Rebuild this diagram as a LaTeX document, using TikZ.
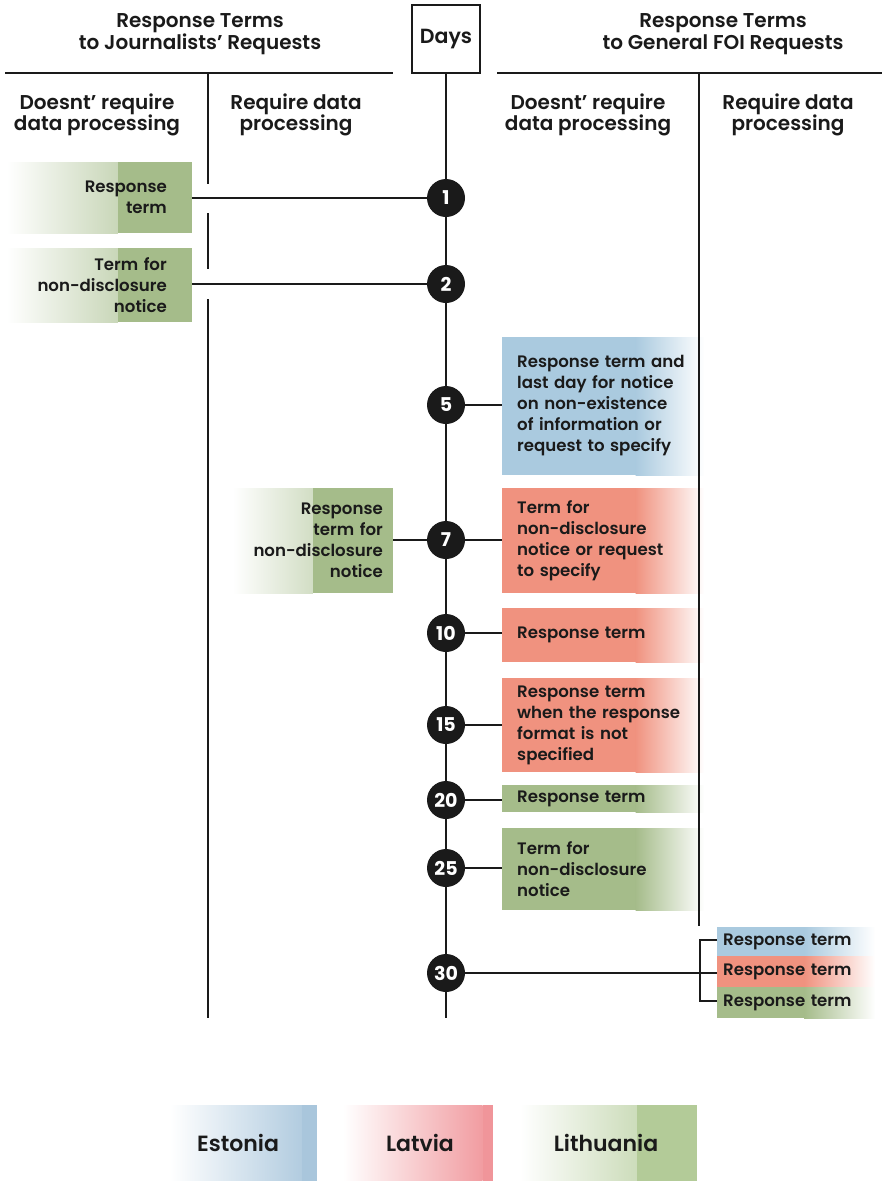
\documentclass[tikz,border=0pt]{standalone}
\usepackage{fontspec}
\setmainfont{Poppins}
\newfontfamily\medfont{Poppins}[UprightFont=* SemiBold]
\usetikzlibrary{calc}
\definecolor{ink}{HTML}{1A1A1A}
\definecolor{lgreen}{HTML}{A5BC8A}
\definecolor{lred}{HTML}{F0927F}
\definecolor{lblue}{HTML}{AACADF}
\definecolor{legblue}{HTML}{A9C6DC}
\definecolor{legred}{HTML}{F0959A}
\definecolor{leggreen}{HTML}{B3CB98}
\tikzset{
  rule/.style={line width=2pt, draw=ink},
  head/.style={align=center, text=ink, font=\medfont\fontsize{20}{21.5}\selectfont},
  day/.style={circle, fill=ink, minimum size=38pt, inner sep=0pt, text=white,
    font=\bfseries\fontsize{19}{19}\selectfont},
  boxfont/.style={text=ink, font=\medfont\fontsize{16.6}{21}\selectfont},
  rbox/.style 2 args={rectangle, anchor=west, inner xsep=15pt, inner ysep=0pt,
    text width=172pt, align=left, boxfont,
    path picture={
      \fill[#1] (path picture bounding box.south west) rectangle
        ($(path picture bounding box.north west)!#2!(path picture bounding box.north east)$);
      \shade[left color=#1, right color=white]
        ($(path picture bounding box.south west)!#2!(path picture bounding box.south east)$)
        rectangle (path picture bounding box.north east);
    }},
  lbox/.style 2 args={rectangle, anchor=east, inner ysep=0pt,
    align=right, boxfont,
    path picture={
      \shade[left color=white, right color=#1] (path picture bounding box.south west) rectangle
        ($(path picture bounding box.north west)!#2!(path picture bounding box.north east)$);
      \fill[#1]
        ($(path picture bounding box.south west)!#2!(path picture bounding box.south east)$)
        rectangle (path picture bounding box.north east);
    }},
  legbox/.style 2 args={rectangle, minimum height=76pt,
    path picture={
      \shade[left color=white, right color=#1] (path picture bounding box.south west) rectangle
        ($(path picture bounding box.north west)!#2!(path picture bounding box.north east)$);
      \fill[#1]
        ($(path picture bounding box.south west)!#2!(path picture bounding box.south east)$)
        rectangle (path picture bounding box.north east);
    }},
  legtext/.style={text=ink, font=\medfont\fontsize{22}{24}\selectfont},
}
\begin{document}
\begin{tikzpicture}[x=1pt, y=-1pt]
\useasboundingbox (0,0) rectangle (882,1181);
\fill[white] (0,0) rectangle (882,1181);

% headers
\node[head] (hj) at (200,34) {Response Terms\\to Journalists’ Requests};
\node[head] (hg) at (723,34) {Response Terms\\to General FOI Requests};
\node[draw=ink, line width=2pt, minimum size=68pt, inner sep=0pt, text=ink,
      font=\medfont\fontsize{20.5}{21}\selectfont] (days) at (446,39) {Days};
\node[head] (s1) at (97,115) {Doesnt’ require\\data processing};
\node[head] (s2) at (296,115) {Require data\\processing};
\node[head] (s3) at (588,115) {Doesnt’ require\\data processing};
\node[head] (s4) at (788,115) {Require data\\processing};

% boxes, left
\node[lbox={lgreen}{0.6}, inner xsep=25pt, text width=135pt, minimum height=71pt] (b1) at (192,197.5) {Response\\term};
\node[lbox={lgreen}{0.6}, inner xsep=25pt, text width=135pt, minimum height=74pt] (b2) at (192,285) {Term for\\non-disclosure\\notice};
\node[lbox={lgreen}{0.5}, inner xsep=10pt, text width=140pt, minimum height=105pt] (b7l) at (393,540.5) {Response\\term for\\non-disclosure\\notice};

% boxes, right
\node[rbox={lblue}{0.66}, minimum height=138pt] (b5) at (502,406) {Response term and\\last day for notice\\on non-existence\\of information or\\request to specify};
\node[rbox={lred}{0.66}, minimum height=105pt] (b7r) at (502,540.5) {Term for\\non-disclosure\\notice or request\\to specify};
\node[rbox={lred}{0.66}, minimum height=54pt] (b10) at (502,635) {Response term};
\node[rbox={lred}{0.66}, minimum height=94pt] (b15) at (502,725) {Response term\\when the response\\format is not\\specified};
\node[rbox={lgreen}{0.66}, minimum height=27pt] (b20) at (502,798.5) {Response term};
\node[rbox={lgreen}{0.66}, minimum height=82pt] (b25) at (502,869) {Term for\\non-disclosure\\notice};

% 30 boxes
\node[rbox={lblue}{0.55}, inner xsep=6pt, text width=146pt, minimum height=29pt] (r1) at (717,941.5) {Response term};
\node[rbox={lred}{0.55}, inner xsep=6pt, text width=146pt, minimum height=31pt] (r2) at (717,971.5) {Response term};
\node[rbox={lgreen}{0.55}, inner xsep=6pt, text width=146pt, minimum height=31pt] (r3) at (717,1002.5) {Response term};

% rules
\coordinate (hl1) at (5,73);   \coordinate (hl2) at (393,73);
\coordinate (hr1) at (497,73); \coordinate (hr2) at (882,73);
\draw[rule] (hl1) -- (hl2);
\draw[rule] (hr1) -- (hr2);
\coordinate (cend) at (446,1018);
\draw[rule] (days.south) -- (cend);
% left divider (with gaps)
\coordinate (ld0) at (208,73);  \coordinate (ld1) at (208,184);
\coordinate (ld2) at (208,213); \coordinate (ld3) at (208,269);
\coordinate (ld4) at (208,299); \coordinate (ld5) at (208,1018);
\draw[rule] (ld0) -- (ld1);
\draw[rule] (ld2) -- (ld3);
\draw[rule] (ld4) -- (ld5);
% right divider
\coordinate (rd0) at (699,73); \coordinate (rd1) at (699,926);
\draw[rule] (rd0) -- (rd1);

% connectors (drawn beneath the day circles)
\coordinate (c1) at (446,198);  \coordinate (c2) at (446,284);
\coordinate (c5) at (446,405);  \coordinate (c7) at (446,540);
\coordinate (c10) at (446,633); \coordinate (c15) at (446,725);
\coordinate (c20) at (446,800); \coordinate (c25) at (446,868);
\coordinate (c30) at (446,973);
\draw[rule] (c1) -- (b1.east |- c1);
\draw[rule] (c2) -- (b2.east |- c2);
\draw[rule] (c5) -- (b5.west |- c5);
\draw[rule] (c7) -- (b7l.east |- c7);
\draw[rule] (c7) -- (b7r.west |- c7);
\draw[rule] (c10) -- (b10.west |- c10);
\draw[rule] (c15) -- (b15.west |- c15);
\draw[rule] (c20) -- (b20.west |- c20);
\draw[rule] (c25) -- (b25.west |- c25);
\draw[rule] (c30) -- (r2.west |- c30);
\draw[rule, line width=2.5pt] ([yshift=1.5pt]r1.west) -| ($(r1.west)!0.5!(r3.west) + (-17,0)$) |- ([yshift=1.5pt]r3.west);

% day circles
\node[day] (d1) at (c1) {1};
\node[day] (d2) at (c2) {2};
\node[day] (d5) at (c5) {5};
\node[day] (d7) at (c7) {7};
\node[day] (d10) at (c10) {10};
\node[day] (d15) at (c15) {15};
\node[day] (d20) at (c20) {20};
\node[day] (d25) at (c25) {25};
\node[day] (d30) at (c30) {30};

% legend
\node[legbox={legblue}{0.9}, minimum width=147pt] (le) at (243.5,1143) {};
\node[legtext] (let) at (238,1143) {Estonia};
\node[legbox={legred}{0.93}, minimum width=150pt] (ll) at (418,1143) {};
\node[legtext] (llt) at (420,1143) {Latvia};
\node[legbox={leggreen}{0.66}, minimum width=177pt] (lt) at (608.5,1143) {};
\node[legtext] (ltt) at (606,1143) {Lithuania};
\end{tikzpicture}
\end{document}
